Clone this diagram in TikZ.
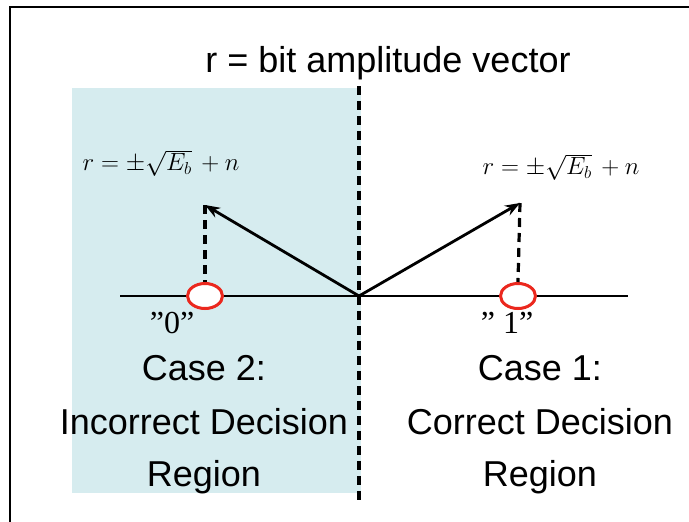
\documentclass[tikz,border=0pt]{standalone}
\usepackage{fontspec}
\setmainfont{Liberation Sans}
\newfontfamily\serifquote{Liberation Serif}
\usetikzlibrary{arrows.meta,shapes.geometric}
\definecolor{regionteal}{RGB}{214,236,239}
\definecolor{ringred}{RGB}{235,40,30}
\tikzset{
  lbl/.style={font=\fontsize{36}{40}\selectfont, inner sep=0pt},
  eq/.style={font=\fontsize{24}{28}\selectfont, inner sep=0pt},
  quote/.style={font=\serifquote\fontsize{32}{36}\selectfont, inner sep=0pt},
  ring/.style={ellipse, draw=ringred, line width=3pt, fill=white, minimum width=35pt, minimum height=25pt, inner sep=0pt},
  vec/.style={line width=2.8pt, -{Stealth[length=15pt,width=11pt]}},
  proj/.style={line width=3.2pt, dash pattern=on 9pt off 6pt},
  axis/.style={line width=2.8pt},
}
\begin{document}
\begin{tikzpicture}[x=1pt,y=-1pt]
\useasboundingbox (0,0) rectangle (689,522);
% frame (only top and left edges visible)
\draw[line width=2.8pt] (10,522) -- (10,7) -- (689,7);
% shaded region
\fill[regionteal] (72,88) rectangle (361,493);
% title
\node[lbl] (title) at (388,63) {r = bit amplitude vector};
% decision boundary
\coordinate (btop) at (359,86);
\coordinate (bbot) at (359,502);
\draw[proj] (btop) -- (bbot);
% axis
\coordinate (axL) at (120,296);
\coordinate (axR) at (628,296);
\coordinate (O) at (359,296);
\draw[axis] (axL) -- (axR);
% points
\coordinate (tipL) at (205,205);
\coordinate (tipR) at (520,203);
\node[ring] (c0) at (205,296) {};
\node[ring] (c1) at (518,296) {};
\draw[proj] (tipL) -- (c0.north);
\draw[proj] (tipR) -- (c1.north);
\draw[vec] (O) -- (tipL);
\draw[vec] (O) -- (tipR);
% equations
\node[eq] (eqL) at (161,163) {$r=\pm\sqrt{E_b}\,+n$};
\node[eq] (eqR) at (561,167) {$r=\pm\sqrt{E_b}\,+n$};
% bit labels
\node[quote] (q0) at (172,323) {”0”};
\node[quote] (q1) at (507,323) {” 1”};
% region labels
\node[lbl] (case2) at (204,368) {Case 2:};
\node[lbl] (inc) at (204,422) {Incorrect Decision};
\node[lbl] (reg2) at (204,477) {Region};
\node[lbl] (case1) at (540,368) {Case 1:};
\node[lbl] (cor) at (540,422) {Correct Decision};
\node[lbl] (reg1) at (540,477) {Region};
\end{tikzpicture}
\end{document}
